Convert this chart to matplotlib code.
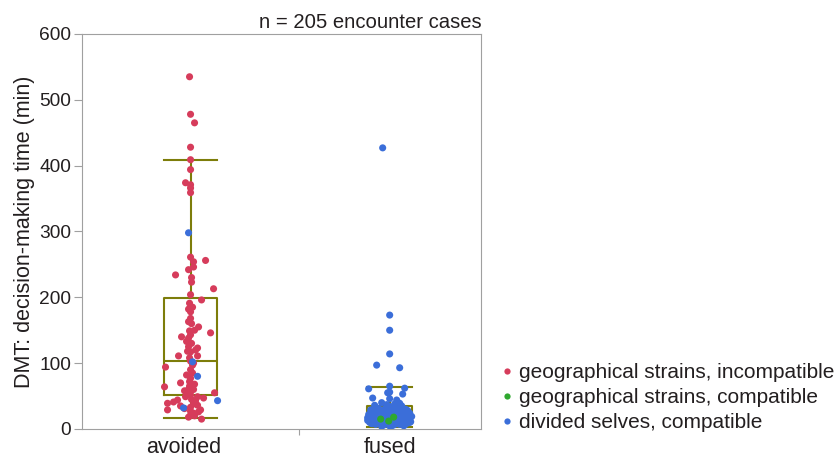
from matplotlib import pyplot as plt
from matplotlib.lines import Line2D
import numpy as np

plt.rcParams['font.family'] = ['Liberation Sans', 'DejaVu Sans']

groups = ["avoided", "fused"]

# box statistics (min)
box_q1 = [52, 12]
box_med = [103, 20]
box_q3 = [199, 35]
box_lo = [17, 3]
box_hi = [409, 64]
box_widths = [0.266, 0.226]

# avoided: (value, jitter in px from the group centre)
avoided_red = [
    (535, -1), (478, 0), (465, 4), (428, 0), (409, 0), (394, 0), (374, -5), (371, 0),
    (366, 0), (359, 0), (261, 0), (256, 15), (254, 3), (246, 3), (242, -2), (234, -15),
    (230, 1), (223, 1), (213, 23), (204, 0), (196, 11), (191, -1), (182, -2), (178, 0),
    (163, -2), (160, 1), (155, 8), (149, -1), (146, 20), (143, 0), (140, -9), (138, -2),
    (125, -2), (123, 7), (117, 0), (111, -12), (111, 7), (108, -1), (103, 0), (94, -25),
    (90, 0), (85, 2), (77, 0), (72, -1), (70, -10), (65, -1), (64, -26), (60, 3),
    (55, 24), (52, 0), (49, -5), (49, 7), (47, 13), (44, -13), (41, -17), (39, -23),
    (38, 3), (36, 7), (33, 0), (29, -23), (29, 10), (27, 0), (24, 3), (21, 0),
    (18, -2), (15, 11), (168, 0), (130, 1), (118, -3), (97, 2), (82, -4), (58, -6),
    (45, 1), (31, -6), (26, 8), (20, 4), (100, 3), (120, 5), (133, -4), (185, 2),
    (150, 4), (60, -2), (43, 5), (35, -10), (56, -3), (68, 4),
]
avoided_blue = [(298, -2), (102, 2), (80, 7), (43, 27), (32, -7)]

fused_blue = [
    (427, -7), (173, 0), (150, 0), (114, 0), (97, -13), (93, 10), (65, 0), (62, 15),
    (61, -21), (56, 0), (55, -2), (53, 13), (47, -17), (46, 0), (44, 7),
    (40, -8), (38, 5), (37, -3), (35, 12), (34, 0), (33, -14), (32, 3), (31, 8),
    (30, -5), (30, 16), (29, 1), (28, -10), (27, 6), (27, -2), (26, 13), (25, -6),
    (25, 3), (24, 9), (24, -12), (23, 0), (23, -18), (22, 5), (22, -3), (21, 11),
    (21, -8), (20, 1), (20, -14), (20, 15), (19, -4), (19, 7), (18, -20), (18, 2),
    (18, 12), (17, -7), (17, 5), (16, 0), (16, -11), (16, 18), (15, -3), (15, 9),
    (15, -16), (14, 4), (14, -6), (14, 14), (13, 0), (13, -22), (13, 8), (12, -9),
    (12, 3), (12, 17), (11, -2), (11, 11), (11, -14), (10, 6), (10, -5), (10, 20),
    (9, 0), (9, -11), (9, 13), (8, -3), (8, 7), (8, -18), (7, 2), (7, 10),
    (6, -6), (6, 4), (5, 0), (5, 14), (4, -8), (3, 1), (28, 18), (26, -16),
    (24, 20), (22, -21), (31, -11), (29, -19), (36, -15), (39, 10), (19, 22), (17, -22),
    (14, -19), (12, -15), (11, 21), (9, 18), (7, -14), (6, 15), (10, -20), (13, -1),
    (16, 6), (21, 0), (18, -9), (23, 8), (26, 2), (15, 20), (8, 12),
]
fused_green = [(15, -9), (12, -1), (18, 4)]

RED = '#d63c5b'
GREEN = '#2fa82f'
BLUE = '#3b6ed9'
OLIVE = '#7d7d0a'
INK = '#231f20'

fig = plt.figure(figsize=(8.37, 4.59), dpi=100)
ax = fig.add_axes([0.098, 0.0654, 0.477, 0.8606])

stats = []
for i in range(2):
    stats.append(dict(q1=box_q1[i], med=box_med[i], q3=box_q3[i],
                      whislo=box_lo[i], whishi=box_hi[i], fliers=[]))
ax.bxp(stats, positions=[0, 1], widths=box_widths, showfliers=False,
       boxprops=dict(color=OLIVE, lw=1.5), medianprops=dict(color=OLIVE, lw=1.5),
       whiskerprops=dict(color=OLIVE, lw=1.5), capprops=dict(color=OLIVE, lw=1.5),
       capwidths=box_widths, zorder=2)

px = 1 / 199.0  # one pixel in x data units
def scatter(pts, pos, col):
    v = np.array([p[0] for p in pts])
    j = np.array([p[1] for p in pts]) * px
    ax.scatter(pos + j, v, s=26, color=col, edgecolors='none', zorder=3)

scatter(avoided_red, 0, RED)
scatter(avoided_blue, 0, BLUE)
scatter(fused_blue, 1, BLUE)
scatter(fused_green, 1, GREEN)

ax.set_xlim(-0.545, 1.46)
ax.set_ylim(0, 600)
ax.set_yticks(range(0, 601, 100))
ax.set_xticks([0.545])
ax.set_xticklabels([''])
for x, g in zip([-0.035, 1.0], groups):
    ax.text(x, -0.02, g, transform=ax.get_xaxis_transform(),
            ha='center', va='top', fontsize=15.5, color=INK)

for s in ax.spines.values():
    s.set_color('#a0a0a0')
ax.tick_params(axis='y', direction='out', length=6, color='#a0a0a0', labelsize=13.8,
               labelcolor=INK, pad=2)
ax.tick_params(axis='x', direction='out', length=4, color='#a0a0a0')
ax.set_ylabel("DMT: decision-making time (min)", fontsize=15.5, color=INK, labelpad=3)
ax.set_title("n = 205 encounter cases", loc='right', fontsize=14.6, color=INK, pad=4)

handles = [Line2D([], [], ls='none', marker='o', ms=4.5, mec='none', mfc=c)
           for c in (RED, GREEN, BLUE)]
labels = ["geographical strains, incompatible", "geographical strains, compatible",
          "divided selves, compatible"]
fig.legend(handles, labels, loc='lower left', bbox_to_anchor=(0.601, 0.058),
           frameon=False, fontsize=15, handlelength=0.4, handletextpad=0.35,
           labelspacing=0.3, labelcolor=INK, borderaxespad=0, borderpad=0)

fig.savefig('out.png', dpi=100)
